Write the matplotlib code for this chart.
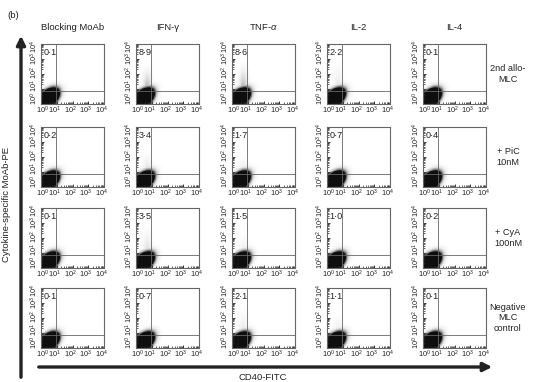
import numpy as np
import matplotlib
matplotlib.use("Agg")
from matplotlib import pyplot as plt
from matplotlib.ticker import LogLocator, NullFormatter, FixedLocator

plt.rcParams['font.family'] = ['Liberation Sans', 'DejaVu Sans']
plt.rcParams['mathtext.fontset'] = 'custom'
plt.rcParams['mathtext.rm'] = 'Liberation Sans'
plt.rcParams['mathtext.it'] = 'Liberation Sans:italic'

# chart content
cytokines = ["Blocking MoAb", "IFN-γ", "TNF-$\\alpha$", "IL-2", "IL-4"]
conditions = ["2nd allo-\nMLC", "+ PiC\n10nM", "+ CyA\n100nM", "Negative\nMLC\ncontrol"]
pct_2nd_mlc = [0.1, 8.9, 8.6, 2.2, 0.1]
pct_pic = [0.2, 3.4, 1.7, 0.7, 0.4]
pct_cya = [0.1, 3.5, 1.5, 1.0, 0.2]
pct_negative = [0.1, 0.7, 2.1, 1.1, 0.1]
# how high (in decades) the sparse positive events reach
tail_2nd_mlc = [0.0, 2.8, 3.0, 3.0, 0.0]
tail_pic = [0.0, 2.5, 2.3, 1.8, 1.2]
tail_cya = [0.0, 3.0, 2.5, 2.0, 0.0]
tail_negative = [0.0, 1.8, 2.8, 2.5, 0.0]
gate_x = 10 ** 0.95
gate_y = 10 ** 0.9
decades = [1, 10, 100, 1000, 10000]
tick_labels = ["$10^{0}$", "$10^{1}$", "$10^{2}$", "$10^{3}$", "$10^{4}$"]

pcts = [pct_2nd_mlc, pct_pic, pct_cya, pct_negative]
tails = [tail_2nd_mlc, tail_pic, tail_cya, tail_negative]

W, H = 535, 382
fig = plt.figure(figsize=(W / 100, H / 100), dpi=100)

col_left = [41, 136, 232, 327, 423]
row_top = [44, 127, 208, 288]
box_w, box_h = 63, 60
ink = "#222222"
edge = "#666666"
# where the printed tick labels sit along each panel edge (axes fraction)
xlab_pos = [0.02, 0.21, 0.46, 0.71, 0.96]
ylab_pos = [0.09, 0.31, 0.53, 0.75, 0.95]

# density grid in log units
u = np.linspace(0, 4, 201)
uc = 0.5 * (u[1:] + u[:-1])
U, V = np.meshgrid(uc, uc)


def panel_density(pct, tail_top):
    # dark cell cluster sitting in the lower left corner
    ang = np.deg2rad(45)
    du, dv = U - 0.48, V - 0.4
    a = du * np.cos(ang) + dv * np.sin(ang)
    b = -du * np.sin(ang) + dv * np.cos(ang)
    core = np.exp(-0.5 * ((a / 0.44) ** 2 + (b / 0.27) ** 2))
    halo = np.exp(-0.5 * ((a / 0.6) ** 2 + (b / 0.38) ** 2))
    dens = np.maximum(np.clip(core * 6.0, 0, 1.0), 0.25 * halo)
    if tail_top > 0:
        xs = np.exp(-0.5 * ((U - 0.72) / 0.2) ** 2)
        above = np.clip((tail_top - V) / (tail_top - 0.9), 0, 1)
        above = np.where(V > 0.5, above, 0)
        dens = np.maximum(dens, xs * above ** 1.3 * min(0.5, 0.15 + 0.04 * pct))
    return dens


for r in range(4):
    for c in range(5):
        l, t = col_left[c], row_top[r]
        ax = fig.add_axes([l / W, 1 - (t + box_h) / H, box_w / W, box_h / H])
        ax.set_xscale('log')
        ax.set_yscale('log')
        dens = panel_density(pcts[r][c], tails[r][c])
        ax.pcolormesh(10 ** u, 10 ** u, dens, cmap='Greys', vmin=0, vmax=1.05,
                      shading='flat', rasterized=True)
        ax.set_xlim(1, 1e4)
        ax.set_ylim(1, 1e4)
        ax.axvline(gate_x, color=edge, lw=0.6)
        ax.axhline(gate_y, color=edge, lw=0.6)
        for s in ax.spines.values():
            s.set_color(edge)
            s.set_linewidth(0.8)
        for axis in (ax.xaxis, ax.yaxis):
            axis.set_major_locator(FixedLocator(decades))
            axis.set_minor_locator(LogLocator(base=10, subs=np.arange(2, 10), numticks=20))
            axis.set_minor_formatter(NullFormatter())
        ax.tick_params(which='major', direction='in', length=2.2, width=0.6, color=ink,
                       labelbottom=False, labelleft=False)
        ax.tick_params(which='minor', direction='in', length=1.2, width=0.5, color=ink)
        for lab, p in zip(tick_labels, xlab_pos):
            ax.text(p, -0.1, lab, transform=ax.transAxes, fontsize=5.3, color=ink,
                    ha='center', va='center', clip_on=False)
        for lab, p in zip(tick_labels, ylab_pos):
            ax.text(-0.1, p, lab, transform=ax.transAxes, fontsize=5.3, color=ink,
                    ha='center', va='center', rotation=90, clip_on=False)
        ax.text(0.04, 0.86, f"{pcts[r][c]:.1f}".replace(".", "·"), transform=ax.transAxes,
                fontsize=6.6, color=ink, va='center', ha='left')

        if r == 0:
            fig.text((l + box_w / 2) / W, 1 - 27 / H, cytokines[c], fontsize=6.8,
                     color=ink, ha='center', va='center')
    fig.text(508 / W, 1 - (row_top[r] + box_h / 2) / H, conditions[r], fontsize=6.6,
             color=ink, ha='center', va='center', linespacing=1.25)

# overlay for the big axis arrows
over = fig.add_axes([0, 0, 1, 1], zorder=-1)
over.set_xlim(0, W)
over.set_ylim(H, 0)
over.axis('off')
over.annotate("", xy=(21, 33), xytext=(21, 380),
              arrowprops=dict(arrowstyle='-|>', lw=2.4, color=ink, mutation_scale=13))
over.annotate("", xy=(495, 367), xytext=(36, 367),
              arrowprops=dict(arrowstyle='-|>', lw=2.4, color=ink, mutation_scale=13))

fig.text(263 / W, 1 - 377 / H, "CD40-FITC", fontsize=6.8, color=ink, ha='center', va='center')
fig.text(7 / W, 1 - 205 / H, "Cytokine-specific MoAb-PE", fontsize=6.8, color=ink,
         ha='center', va='center', rotation=90)
fig.text(7 / W, 1 - 15 / H, "(b)", fontsize=6.8, color=ink, ha='left', va='center')

fig.savefig("out.png", dpi=100)
